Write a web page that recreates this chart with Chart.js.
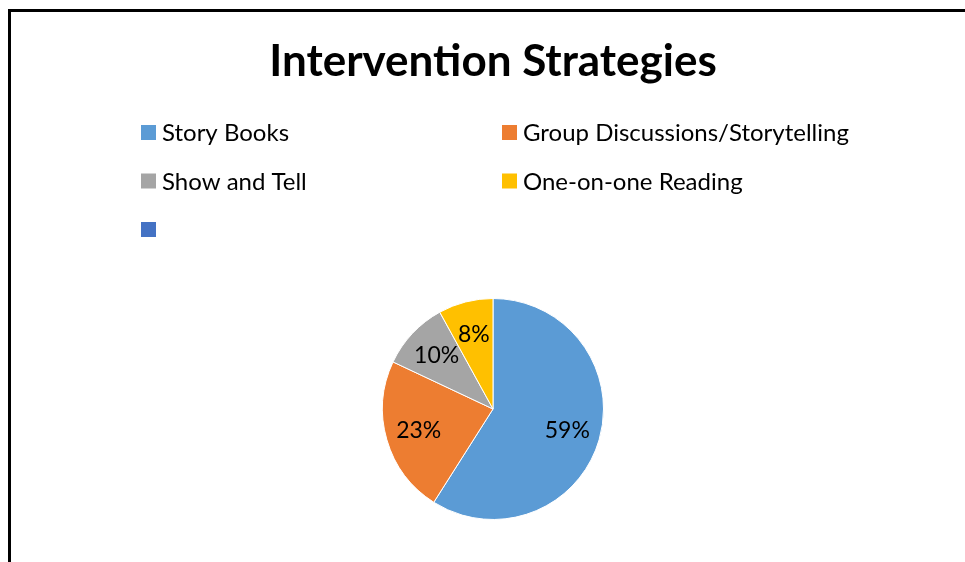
<!DOCTYPE html>
<html>
<head>
<meta charset="utf-8">
<title>Intervention Strategies</title>
<script src="https://cdn.jsdelivr.net/npm/chart.js@4.4.1/dist/chart.umd.min.js"></script>
<style>
  html, body { margin: 0; padding: 0; background: #fff; overflow: hidden; }
  #wrap { position: relative; width: 965px; height: 562px; }
  #frame {
    position: absolute; left: 8px; top: 9px; width: 1000px; height: 600px;
    border-top: 3px solid #000; border-left: 3px solid #000; pointer-events: none;
  }
  canvas { position: absolute; left: 0; top: 0; }
</style>
</head>
<body>
<div id="wrap">
  <canvas id="pie" width="965" height="562"></canvas>
  <div id="frame"></div>
</div>
<script>
  var chartTitle = 'Intervention Strategies';
  var categories = ['Story Books', 'Group Discussions/Storytelling', 'Show and Tell', 'One-on-one Reading', ''];
  var shares = [59, 23, 10, 8, 0];
  var colors = ['#5B9BD5', '#ED7D31', '#A5A5A5', '#FFC000', '#4472C4'];

  var FONT = 'Lato, "Open Sans", "DejaVu Sans", sans-serif';

  // title + two-column legend, drawn on the canvas
  var headerPlugin = {
    id: 'header',
    afterDraw: function (chart) {
      var ctx = chart.ctx;
      ctx.save();
      ctx.fillStyle = '#000';
      ctx.textAlign = 'center';
      ctx.textBaseline = 'middle';
      ctx.font = 'bold 44px ' + FONT;
      ctx.fillText(chartTitle, 493, 62);

      ctx.font = '24px ' + FONT;
      ctx.textAlign = 'left';
      var labels = chart.data.labels;
      var bg = chart.data.datasets[0].backgroundColor;
      for (var i = 0; i < labels.length; i++) {
        var col = i % 2, row = Math.floor(i / 2);
        var x = col === 0 ? 141 : 502;
        var y = 132.5 + row * 48.5;
        ctx.fillStyle = bg[i];
        ctx.fillRect(x, y - 7.5, 15, 15);
        ctx.fillStyle = '#000';
        ctx.fillText(labels[i], x + 21, y + 1);
      }
      ctx.restore();
    }
  };

  // percentage labels inside the slices
  var sliceLabels = {
    id: 'sliceLabels',
    afterDatasetsDraw: function (chart) {
      var ctx = chart.ctx;
      var meta = chart.getDatasetMeta(0);
      var data = chart.data.datasets[0].data;
      ctx.save();
      ctx.font = '23px ' + FONT;
      ctx.fillStyle = '#000';
      ctx.textAlign = 'center';
      ctx.textBaseline = 'middle';
      meta.data.forEach(function (arc, i) {
        if (!data[i]) return;
        var p = arc.getProps(['x', 'y', 'startAngle', 'endAngle', 'outerRadius'], true);
        var mid = (p.startAngle + p.endAngle) / 2;
        var r = p.outerRadius * 0.7;
        ctx.fillText(data[i] + '%', p.x + Math.cos(mid) * r, p.y + Math.sin(mid) * r);
      });
      ctx.restore();
    }
  };

  new Chart(document.getElementById('pie'), {
    type: 'pie',
    data: {
      labels: categories,
      datasets: [{
        data: shares,
        backgroundColor: colors,
        borderColor: '#fff',
        borderWidth: 1
      }]
    },
    options: {
      responsive: false,
      animation: false,
      layout: { padding: { top: 298, bottom: 42, left: 21, right: 0 } },
      plugins: {
        legend: { display: false },
        title: { display: false },
        tooltip: { enabled: false }
      }
    },
    plugins: [sliceLabels, headerPlugin]
  });
</script>
</body>
</html>
